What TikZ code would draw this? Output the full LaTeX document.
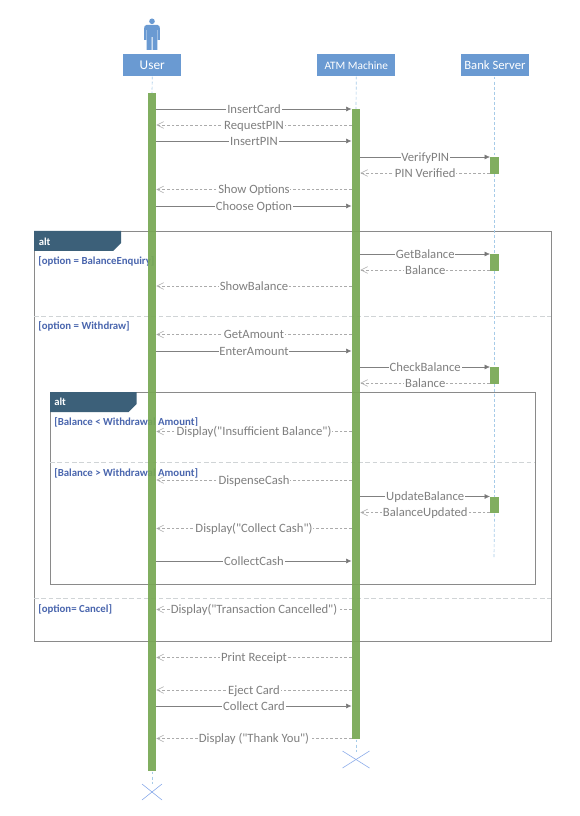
\documentclass[tikz,border=0pt]{standalone}
\usepackage{fontspec}
\setmainfont{Carlito}
\newfontfamily\carl{Carlito}
\usetikzlibrary{arrows.meta,calc}
\definecolor{headblue}{HTML}{6A9AD2}
\definecolor{lifeblue}{HTML}{A6CBE8}
\definecolor{bargreen}{HTML}{78A854}
\definecolor{tabblue}{HTML}{3C6079}
\definecolor{guardblue}{HTML}{4A66AE}
\definecolor{framegray}{HTML}{8A8A8A}
\definecolor{divgray}{HTML}{D0D4D6}
\definecolor{msggray}{HTML}{808080}
\definecolor{retgray}{HTML}{ABABAB}
\definecolor{txtgray}{HTML}{7F7F7F}
\tikzset{
  x=0.75pt,y=-0.75pt,
  head/.style={draw=none,fill=headblue,text=white,inner sep=0pt,anchor=north west,font=\fontsize{9}{10}\selectfont,align=center},
  life/.style={draw=lifeblue,dashed,dash pattern=on 2.2pt off 1.6pt,line width=0.5pt},
  bar/.style={draw=none,fill=bargreen,fill opacity=.93,inner sep=0pt,minimum width=6.2pt,anchor=north},
  cross/.style={draw=lifeblue!85!blue,line width=0.45pt},
  lab/.style={fill=white,inner sep=0.6pt,text=txtgray,font=\carl\fontsize{9.5}{10}\selectfont,text height=6.4pt,text depth=0pt},
  msg/.style={draw=msggray,line width=0.5pt,-{Latex[length=4.2pt,width=3.8pt,fill=msggray!90!black]}},
  ret/.style={draw=retgray,line width=0.5pt,dash pattern=on 2pt off 1.5pt,-{Straight Barb[length=5pt,width=5pt,color=retgray,line width=0.4pt]}},
  frameb/.style={draw=framegray,line width=0.6pt},
  divider/.style={draw=divgray,line width=0.5pt,dash pattern=on 3.5pt off 2pt},
  tab/.style={fill=tabblue,draw=none},
  tabtxt/.style={text=white,font=\bfseries\fontsize{8}{9}\selectfont,inner sep=0pt,anchor=west},
  guard/.style={text=guardblue,font=\bfseries\fontsize{8.1}{9}\selectfont,inner sep=0pt,anchor=west},
}
\begin{document}
\begin{tikzpicture}
\fill[white] (0,0) rectangle (579,816);
\useasboundingbox (0,0) rectangle (579,816);
% frames
\coordinate (oA) at (34,231); \coordinate (oB) at (551,641);
\coordinate (iA) at (50,392); \coordinate (iB) at (535,584);
\draw[frameb] (oA) rectangle (oB);
\draw[frameb] (iA) rectangle (iB);
\fill[tab] (34,231) -- (121,231) -- (121,243) -- (113,251) -- (34,251) -- cycle;
\fill[tab] (50,392) -- (136.5,392) -- (136.5,404) -- (128.5,412) -- (50,412) -- cycle;
\node[tabtxt] (alt1) at (38.5,241.5) {alt};
\node[tabtxt] (alt2) at (54,401.5) {alt};
\draw[divider] (34,316) -- (551,316);
\draw[divider] (34,598) -- (551,598);
\draw[divider] (50,462) -- (535,462);
\node[guard] (g1) at (38,261) {[option = BalanceEnquiry]};
\node[guard] (g2) at (38,326.5) {[option = Withdraw]};
\node[guard] (g3) at (54,422.5) {[Balance < Withdrawal Amount]};
\node[guard] (g4) at (54,473) {[Balance > Withdrawal Amount]};
\node[guard] (g5) at (38,609) {[option= Cancel]};
% heads
\node[head,minimum width=43.5pt,minimum height=16.5pt] (user) at (123,54) {\fontsize{10}{11}\selectfont User};
\node[head,minimum width=58.5pt,minimum height=16.5pt] (atm) at (317,54) {\fontsize{8.5}{10}\selectfont ATM Machine};
\node[head,minimum width=50.5pt,minimum height=16.5pt] (bank) at (461,54) {\fontsize{9.5}{10}\selectfont Bank Server};
% actor
\fill[headblue] (152,21.3) circle[radius=2.8];
\fill[headblue] (146.5,25) -- (157.5,25) .. controls (159.3,25) and (159.8,26.5) .. (159.8,28) -- (159.8,40) -- (157.9,40) -- (157.9,30) -- (157.4,30) -- (157.4,50) -- (152.5,50) -- (152.5,37) -- (151.5,37) -- (151.5,50) -- (146.6,50) -- (146.6,30) -- (146.1,30) -- (146.1,40) -- (144.2,40) -- (144.2,28) .. controls (144.2,26.5) and (144.7,25) .. (146.5,25) -- cycle;
% end markers
\coordinate (ux) at (152,792);
\coordinate (ax) at (356,759.5);
\coordinate (bend) at (494,558);
% bars
\node[bar,minimum height=508.5pt] (ubar) at (152,93) {};
\node[bar,minimum height=472.5pt] (abar) at (356,109) {};
\node[bar,minimum height=12.5pt] (b1) at (494.5,157) {};
\node[bar,minimum height=12.2pt] (b2) at (494.5,254) {};
\node[bar,minimum height=12.2pt] (b3) at (494.5,367) {};
\node[bar,minimum height=12.5pt] (b4) at (494.5,496.5) {};
% lifelines
\draw[life] (user.south) -- (ubar.north);
\draw[life] (atm.south) -- (abar.north);
\draw[life] (bank.south -| b1.north) -- (b1.north);
\draw[life] (b1.south) -- (b2.north);
\draw[life] (b2.south) -- (b3.north);
\draw[life] (b3.south) -- (b4.north);
\draw[life] (b4.south) -- (bend);
\draw[life] (ubar.south) -- ($(ux)+(0,-8)$);
\draw[life] (abar.south) -- ($(ax)+(0,-8)$);
\draw[cross] ($(ux)+(-10,-8)$) -- ($(ux)+(10,8)$);
\draw[cross] ($(ux)+(-10,8)$) -- ($(ux)+(10,-8)$);
\draw[cross] ($(ax)+(-13.5,-8.5)$) -- ($(ax)+(13.5,8.5)$);
\draw[cross] ($(ax)+(-13.5,8.5)$) -- ($(ax)+(13.5,-8.5)$);
% messages
\draw[msg] (ubar.east |- 0,109) -- node[lab] {InsertCard} (abar.west |- 0,109);
\draw[ret] (abar.west |- 0,125) -- node[lab] {RequestPIN} (ubar.east |- 0,125);
\draw[msg] (ubar.east |- 0,141) -- node[lab] {InsertPIN} (abar.west |- 0,141);
\draw[msg] (abar.east |- 0,157) -- node[lab] {VerifyPIN} (b1.west |- 0,157);
\draw[ret] (b1.west |- 0,173) -- node[lab] {PIN Verified} (abar.east |- 0,173);
\draw[ret] (abar.west |- 0,189.5) -- node[lab] {Show Options} (ubar.east |- 0,189.5);
\draw[msg] (ubar.east |- 0,206) -- node[lab] {Choose Option} (abar.west |- 0,206);
\draw[msg] (abar.east |- 0,254) -- node[lab] {GetBalance} (b2.west |- 0,254);
\draw[ret] (b2.west |- 0,270) -- node[lab] {Balance} (abar.east |- 0,270);
\draw[ret] (abar.west |- 0,286) -- node[lab] {ShowBalance} (ubar.east |- 0,286);
\draw[ret] (abar.west |- 0,334.5) -- node[lab] {GetAmount} (ubar.east |- 0,334.5);
\draw[msg] (ubar.east |- 0,351) -- node[lab] {EnterAmount} (abar.west |- 0,351);
\draw[msg] (abar.east |- 0,367) -- node[lab] {CheckBalance} (b3.west |- 0,367);
\draw[ret] (b3.west |- 0,383) -- node[lab] {Balance} (abar.east |- 0,383);
\draw[ret] (abar.west |- 0,431.5) -- node[lab] {Display("Insufficient Balance")} (ubar.east |- 0,431.5);
\draw[ret] (abar.west |- 0,480) -- node[lab] {DispenseCash} (ubar.east |- 0,480);
\draw[msg] (abar.east |- 0,496.5) -- node[lab] {UpdateBalance} (b4.west |- 0,496.5);
\draw[ret] (b4.west |- 0,512.5) -- node[lab] {BalanceUpdated} (abar.east |- 0,512.5);
\draw[ret] (abar.west |- 0,528.5) -- node[lab] {Display("Collect Cash")} (ubar.east |- 0,528.5);
\draw[msg] (ubar.east |- 0,561) -- node[lab] {CollectCash} (abar.west |- 0,561);
\draw[ret] (abar.west |- 0,609.5) -- node[lab] {Display("Transaction Cancelled")} (ubar.east |- 0,609.5);
\draw[ret] (abar.west |- 0,657.5) -- node[lab] {Print Receipt} (ubar.east |- 0,657.5);
\draw[ret] (abar.west |- 0,690) -- node[lab] {Eject Card} (ubar.east |- 0,690);
\draw[msg] (ubar.east |- 0,706) -- node[lab] {Collect Card} (abar.west |- 0,706);
\draw[ret] (abar.west |- 0,738.5) -- node[lab] {Display ("Thank You")} (ubar.east |- 0,738.5);
\end{tikzpicture}
\end{document}
